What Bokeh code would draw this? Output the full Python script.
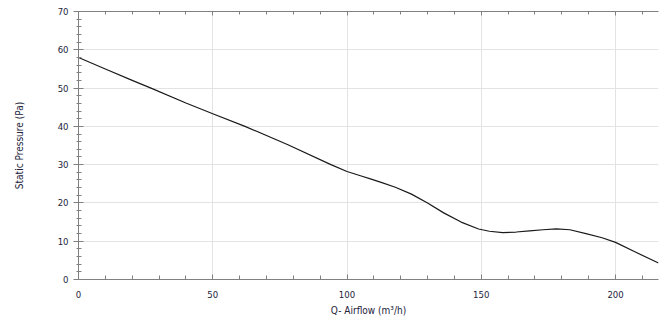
from bokeh.plotting import figure
from bokeh.models import Range1d, LinearAxis, SingleIntervalTicker, Title, CustomJSTickFormatter
from bokeh.embed import file_html
from bokeh.resources import INLINE

airflow = [0, 10, 20, 27, 40, 50, 62, 78, 94, 100, 105, 109, 113, 118, 124, 130, 136, 142.5, 149,
           153, 158, 163, 168, 173, 178, 183, 189, 195, 200, 207, 216]
pressure = [58, 55, 52, 50, 46.1, 43.3, 40, 35.2, 30, 28.2, 27.1, 26.2, 25.3, 24.1, 22.3, 20, 17.4, 15, 13.2,
            12.6, 12.25, 12.4, 12.7, 13.0, 13.2, 13.0, 12.0, 10.9, 9.7, 7.3, 4.3]

x_label = "Q- Airflow (m³/h)"
y_label = "Static Pressure (Pa)"

FONT = "DejaVu Sans Condensed"
AX = "#808080"
TXT = "#22223a"

p = figure(width=670, height=321, output_backend="svg", toolbar_location=None,
           x_range=Range1d(0, 216), y_range=Range1d(0, 70),
           min_border_left=78, min_border_right=12, min_border_top=11, min_border_bottom=42,
           x_axis_location=None, y_axis_location=None)
p.outline_line_color = None
p.background_fill_color = "white"
p.border_fill_color = "white"

xt = SingleIntervalTicker(interval=50, num_minor_ticks=5)
yt = SingleIntervalTicker(interval=10, num_minor_ticks=5)

xa = LinearAxis(ticker=xt)
xa.axis_line_color = AX
xa.major_tick_line_color = AX
xa.minor_tick_line_color = AX
xa.major_tick_in = 5
xa.major_tick_out = 0
xa.minor_tick_in = 4
xa.minor_tick_out = 0
xa.major_label_standoff = 11
xa.major_label_text_font = FONT
xa.major_label_text_font_size = "9.5px"
xa.major_label_text_color = TXT
p.add_layout(xa, "below")

ta = LinearAxis(ticker=xt, formatter=CustomJSTickFormatter(code="return ''"))
ta.axis_line_color = AX
ta.major_tick_line_color = AX
ta.minor_tick_line_color = AX
ta.major_tick_in = 4
ta.major_tick_out = 0
ta.minor_tick_in = 3
ta.minor_tick_out = 0
ta.major_label_standoff = 0
p.add_layout(ta, "above")

ya = LinearAxis(ticker=yt)
ya.axis_line_color = AX
ya.major_tick_line_color = AX
ya.minor_tick_line_color = AX
ya.major_tick_in = 5
ya.major_tick_out = 5
ya.minor_tick_in = 3
ya.minor_tick_out = 2
ya.major_label_standoff = 5
ya.major_label_text_font = FONT
ya.major_label_text_font_size = "9.5px"
ya.major_label_text_color = TXT
ya.axis_label = y_label
ya.axis_label_text_font = FONT
ya.axis_label_text_font_size = "10px"
ya.axis_label_text_font_style = "normal"
ya.axis_label_text_color = TXT
ya.axis_label_standoff = 30
p.add_layout(ya, "left")

p.xgrid.ticker = xt
p.ygrid.ticker = yt
p.xgrid.grid_line_color = "#e3e3e3"
p.ygrid.grid_line_color = "#e3e3e3"

p.line(airflow, pressure, line_color="#1a1a1a", line_width=1.2, line_join="round")

p.add_layout(Title(text=x_label, align="center", offset=45, standoff=4,
                   text_font=FONT, text_font_size="10px", text_font_style="normal",
                   text_color=TXT), "below")

open("out.html", "w").write(file_html(p, INLINE))
